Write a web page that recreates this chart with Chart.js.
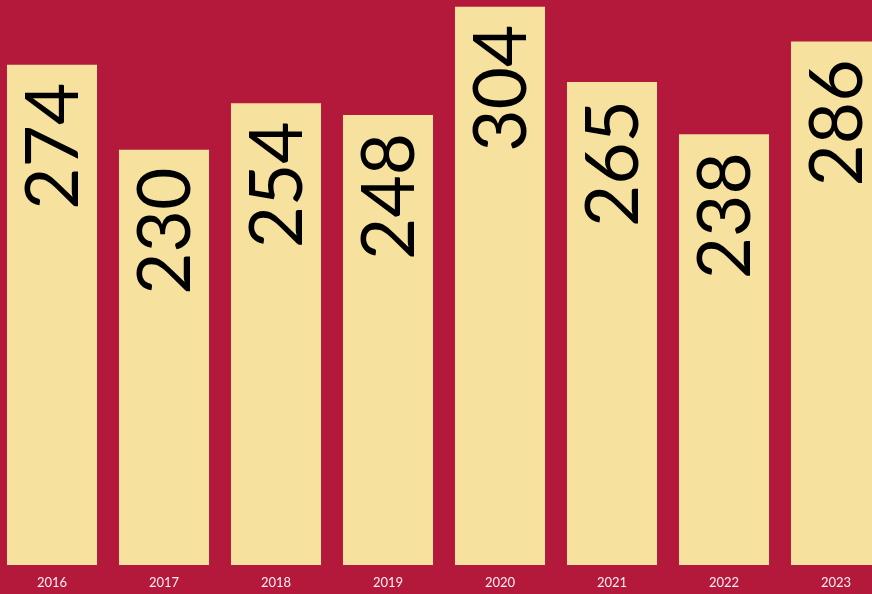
<!DOCTYPE html>
<html>
<head>
<meta charset="utf-8">
<script src="https://cdn.jsdelivr.net/npm/chart.js@4.4.1/dist/chart.umd.min.js"></script>
<style>
  html, body { margin: 0; padding: 0; background: #B4193C; overflow: hidden; width: 872px; height: 594px; }
  #wrap { position: absolute; left: -4px; top: 0; width: 896px; height: 594px; }
</style>
</head>
<body>
<div id="wrap"><canvas id="c"></canvas></div>
<script>
const years = ['2016', '2017', '2018', '2019', '2020', '2021', '2022', '2023'];
const counts = [274, 230, 254, 248, 304, 265, 238, 286];

const BG = '#B4193C';
const BAR = '#F6E19F';

const valueLabels = {
  id: 'valueLabels',
  afterDatasetsDraw(chart) {
    const ctx = chart.ctx;
    const meta = chart.getDatasetMeta(0);
    const fontSize = 73;
    ctx.save();
    ctx.font = `400 ${fontSize}px Lato`;
    ctx.fillStyle = '#000000';
    ctx.textAlign = 'right';
    ctx.textBaseline = 'alphabetic';
    const capH = fontSize * 0.72;
    meta.data.forEach((bar, i) => {
      ctx.save();
      ctx.translate(bar.x, bar.y + 18);
      ctx.rotate(-Math.PI / 2);
      ctx.fillText(String(chart.data.datasets[0].data[i]), 0, capH / 2);
      ctx.restore();
    });
    ctx.restore();
  }
};

new Chart(document.getElementById('c'), {
  type: 'bar',
  data: {
    labels: years,
    datasets: [{
      data: counts,
      backgroundColor: BAR,
      borderWidth: 0,
      barPercentage: 0.804,
      categoryPercentage: 1.0
    }]
  },
  options: {
    responsive: true,
    maintainAspectRatio: false,
    animation: false,
    layout: { padding: 0 },
    plugins: { legend: { display: false }, tooltip: { enabled: false } },
    scales: {
      x: {
        grid: { display: false, drawTicks: false },
        border: { display: false },
        ticks: { color: '#FBEFF1', font: { family: 'Lato', size: 13 }, padding: 10, maxRotation: 0 },
        afterFit(scale) { scale.height = 29; }
      },
      y: {
        display: false,
        min: 15,
        max: 307.5
      }
    }
  },
  plugins: [valueLabels]
});
</script>
</body>
</html>
